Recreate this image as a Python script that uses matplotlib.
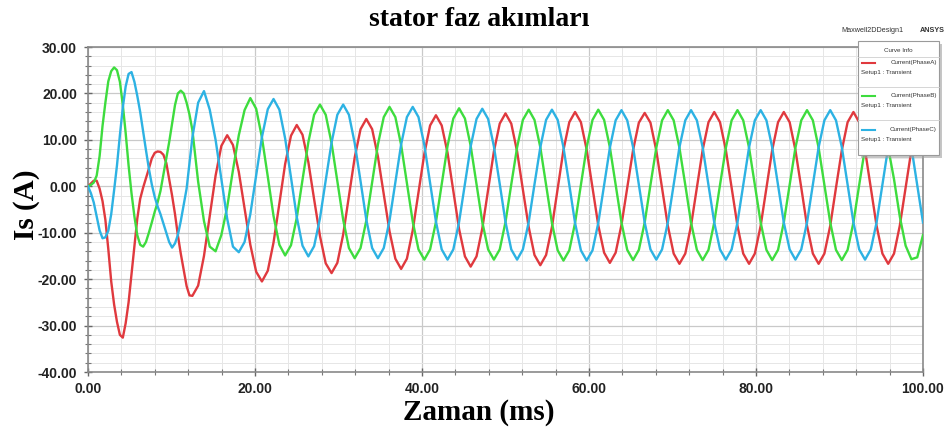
import matplotlib
matplotlib.use("Agg")
import matplotlib.pyplot as plt
from matplotlib.patches import Rectangle
from matplotlib.ticker import MultipleLocator, FormatStrFormatter
from matplotlib.lines import Line2D

# ---------------- data ----------------
TIME_MS = [0.00, 0.35, 0.69, 1.04, 1.39, 1.74, 2.08, 2.43, 2.78, 3.13, 3.47, 3.82, 4.17, 4.51, 4.86, 5.21, 5.56, 5.90,
           6.25, 6.60, 6.94, 7.29, 7.64, 7.99, 8.33, 8.68, 9.03, 9.38, 9.72, 10.07, 10.42, 10.76, 11.11, 11.46, 11.81,
           12.15, 12.50,
           13.19, 13.89, 14.58, 15.28, 15.97, 16.67, 17.36, 18.06, 18.75, 19.44, 20.14, 20.83, 21.53, 22.22, 22.92,
           23.61, 24.31, 25.00,
           25.69, 26.39, 27.08, 27.78, 28.47, 29.17, 29.86, 30.56, 31.25, 31.94, 32.64, 33.33, 34.03, 34.72, 35.42,
           36.11, 36.81, 37.50, 38.19, 38.89, 39.58, 40.28, 40.97, 41.67, 42.36, 43.06, 43.75, 44.44, 45.14, 45.83,
           46.53, 47.22, 47.92, 48.61, 49.31, 50.00,
           50.69, 51.39, 52.08, 52.78, 53.47, 54.17, 54.86, 55.56, 56.25, 56.94, 57.64, 58.33, 59.03, 59.72, 60.42,
           61.11, 61.81, 62.50, 63.19, 63.89, 64.58, 65.28, 65.97, 66.67, 67.36, 68.06, 68.75, 69.44, 70.14, 70.83,
           71.53, 72.22, 72.92, 73.61, 74.31, 75.00,
           75.69, 76.39, 77.08, 77.78, 78.47, 79.17, 79.86, 80.56, 81.25, 81.94, 82.64, 83.33, 84.03, 84.72, 85.42,
           86.11, 86.81, 87.50, 88.19, 88.89, 89.58, 90.28, 90.97, 91.67, 92.36, 93.06, 93.75, 94.44, 95.14, 95.83,
           96.53, 97.22, 97.92, 98.61, 99.31, 100.00]

PHASE_A = [0.0, 0.6, 1.2, 1.2, -0.5, -3.2, -7.2, -13.5, -20.5, -25.5, -29.2, -32.0, -32.6, -29.5, -25.0, -19.0,
           -12.8, -7.0, -2.7, -0.3, 1.7, 3.8, 6.0, 7.2, 7.5, 7.4, 6.8, 5.0, 1.5, -2.0, -6.0, -10.5, -14.5, -18.0,
           -21.5, -23.5, -23.6,
           -21.4, -15.0, -6.4, 2.3, 8.7, 11.0,
           8.9, 3.1, -4.8, -12.6, -18.4, -20.5,
           -18.2, -12.1, -3.7, 4.8, 10.9, 13.2,
           11.1, 5.2, -2.8, -10.7, -16.6, -18.7,
           -16.5, -10.4, -2.1, 6.2, 12.3, 14.5,
           12.3, 6.4, -1.7, -9.7, -15.6, -17.8,
           -15.6, -9.5, -1.3, 7.0, 13.1, 15.3,
           13.1, 7.2, -1.0, -9.2, -15.1, -17.3,
           -15.1, -9.1, -0.8, 7.5, 13.5, 15.7,
           13.5, 7.5, -0.7, -8.8, -14.8, -17.0,
           -14.8, -8.8, -0.5, 7.8, 13.8, 16.0,
           13.8, 7.9, -0.3, -8.4, -14.3, -16.5,
           -14.3, -8.3, -0.3, 7.8, 13.7, 15.8,
           13.7, 7.7, -0.4, -8.5, -14.5, -16.7,
           -14.5, -8.5, -0.3, 7.8, 13.8, 16.0,
           13.8, 7.8, -0.3, -8.5, -14.5, -16.7,
           -14.5, -8.5, -0.3, 7.8, 13.8, 16.0,
           13.8, 7.8, -0.3, -8.5, -14.5, -16.7,
           -14.5, -8.5, -0.3, 7.8, 13.8, 16.0,
           13.8, 7.8, -0.3, -8.5, -14.5, -16.7,
           -14.5, -8.5, -0.3, 7.8, 13.8, 16.0]

PHASE_B = [0.0, 0.3, 0.8, 2.3, 6.5, 13.0, 18.0, 22.6, 24.8, 25.6, 25.0, 22.5, 17.5, 11.5, 4.5, -1.5, -6.5, -10.5,
           -12.6, -13.0, -12.0, -10.0, -7.8, -5.5, -3.5, -1.0, 2.5, 6.0, 9.5, 13.5, 17.5, 20.0, 20.6, 20.0, 18.0,
           15.5, 12.1,
           1.0, -7.5, -13.0, -14.0, -10.5, -4.5,
           3.5, 11.0, 16.4, 19.0, 16.7, 10.5,
           2.1, -6.4, -12.6, -14.9, -12.7, -6.8,
           1.4, 9.5, 15.4, 17.6, 15.4, 9.3,
           1.1, -7.2, -13.3, -15.5, -13.3, -7.4,
           0.8, 9.0, 14.9, 17.1, 14.9, 8.9,
           0.7, -7.6, -13.6, -15.8, -13.6, -7.7,
           0.5, 8.7, 14.6, 16.8, 14.6, 8.7,
           0.5, -7.7, -13.6, -15.8, -13.6, -7.7,
           0.4, 8.4, 14.3, 16.5, 14.3, 8.4,
           0.3, -7.9, -13.8, -16.0, -13.8, -7.9,
           0.3, 8.4, 14.3, 16.5, 14.3, 8.4,
           0.3, -7.8, -13.7, -15.9, -13.7, -7.8,
           0.3, 8.3, 14.2, 16.4, 14.2, 8.3,
           0.3, -7.8, -13.7, -15.9, -13.7, -7.8,
           0.3, 8.3, 14.2, 16.4, 14.2, 8.3,
           0.3, -7.8, -13.7, -15.9, -13.7, -7.8,
           0.3, 8.3, 14.2, 16.4, 14.2, 8.3,
           0.3, -7.8, -13.7, -15.9, -13.7, -7.8,
           0.3, 8.3, 14.2, 16.4, 14.2, 8.3,
           1.5, -6.5, -12.8, -15.7, -15.3, -10.5]

PHASE_C = [0.0, -1.5, -3.5, -6.5, -9.5, -11.2, -11.0, -9.6, -6.0, -0.8, 4.5, 11.0, 17.0, 21.5, 24.2, 24.6, 22.5,
           19.5, 16.0, 11.8, 7.8, 3.8, 0.4, -2.3, -4.3, -6.0, -8.0, -10.0, -12.0, -13.2, -12.3, -10.5, -7.5, -4.0,
           -0.5, 5.0, 10.5,
           18.0, 20.5, 16.5, 10.0, 1.5, -7.0,
           -13.0, -14.2, -12.0, -6.0, 2.3, 10.6,
           16.6, 18.8, 16.5, 10.3, 1.9, -6.6,
           -12.8, -15.1, -12.9, -6.9, 1.3, 9.4,
           15.4, 17.6, 15.4, 9.3, 1.1, -7.2,
           -13.3, -15.5, -13.3, -7.4, 0.8, 9.0,
           14.9, 17.1, 14.9, 8.9, 0.7, -7.6,
           -13.6, -15.8, -13.6, -7.7, 0.5, 8.6,
           14.5, 16.7, 14.5, 8.6, 0.5, -7.7,
           -13.6, -15.8, -13.6, -7.7, 0.4, 8.4,
           14.3, 16.5, 14.3, 8.4, 0.3, -7.9,
           -13.8, -16.0, -13.8, -7.9, 0.2, 8.3,
           14.2, 16.4, 14.2, 8.4, 0.3, -7.8,
           -13.6, -15.8, -13.6, -7.8, 0.3, 8.4,
           14.2, 16.4, 14.2, 8.4, 0.3, -7.8,
           -13.6, -15.8, -13.6, -7.8, 0.3, 8.4,
           14.2, 16.4, 14.2, 8.4, 0.3, -7.8,
           -13.6, -15.8, -13.6, -7.8, 0.3, 8.4,
           14.2, 16.4, 14.2, 8.4, 0.3, -7.8,
           -13.6, -15.8, -13.6, -7.8, 0.3, 8.4,
           14.2, 16.4, 14.2, 8.4, 0.3, -7.8]

SERIES_NAMES = ["Current(PhaseA)", "Current(PhaseB)", "Current(PhaseC)"]
SERIES_SUB = "Setup1 : Transient"
TITLE = "stator faz akımları"
XLABEL = "Zaman (ms)"
YLABEL = "Is (A)"

# ---------------- figure ----------------
W, H = 948, 432
fig = plt.figure(figsize=(W / 100, H / 100), dpi=100)
fig.patch.set_facecolor("white")

L, R, T, B = 88, 923, 47, 372
ax = fig.add_axes([L / W, 1 - B / H, (R - L) / W, (B - T) / H])

colors = ["#E0393E", "#3EDC3E", "#2DB2E3"]
for vals, c in zip([PHASE_A, PHASE_B, PHASE_C], colors):
    ax.plot(TIME_MS, vals, color=c, lw=1.7, solid_joinstyle="round", zorder=3)

ax.set_xlim(0, 100)
ax.set_ylim(-40, 30)
ax.xaxis.set_major_locator(MultipleLocator(20))
ax.xaxis.set_minor_locator(MultipleLocator(4))
ax.yaxis.set_major_locator(MultipleLocator(10))
ax.yaxis.set_minor_locator(MultipleLocator(2))
ax.xaxis.set_major_formatter(FormatStrFormatter("%.2f"))
ax.yaxis.set_major_formatter(FormatStrFormatter("%.2f"))

ax.grid(which="major", color="#c9c9c9", lw=0.9, zorder=0)
ax.grid(which="minor", color="#e6e6e6", lw=0.7, zorder=0)
ax.set_axisbelow(True)

for s in ax.spines.values():
    s.set_color("#8a8a8a")
    s.set_linewidth(1.2)
ax.tick_params(which="major", direction="inout", length=6, width=1.0, color="#666666",
               labelsize=10, labelcolor="#222222", pad=4)
ax.tick_params(which="minor", direction="inout", length=4, width=0.8, color="#777777")
ax.tick_params(axis="y", which="major", pad=5)
for lab in ax.get_xticklabels() + ax.get_yticklabels():
    lab.set_fontweight("bold")
    lab.set_family("Liberation Sans")

serif = "Liberation Serif"
fig.text(479 / W, 1 - 19 / H, TITLE, ha="center", va="center", fontsize=20,
         fontweight="bold", family=serif)
fig.text(479 / W, 1 - 412 / H, XLABEL, ha="center", va="center", fontsize=21,
         fontweight="bold", family=serif)
fig.text(26 / W, 1 - 205 / H, YLABEL, ha="center", va="center", fontsize=21,
         fontweight="bold", family=serif, rotation=90)

# ---------------- ANSYS style curve info box (overlay in pixel coords) ----------------
ov = fig.add_axes([0, 0, 1, 1], zorder=10)
ov.set_xlim(0, W)
ov.set_ylim(H, 0)
ov.axis("off")
ov.patch.set_alpha(0)

bx0, by0, bx1, by1 = 858, 41, 939, 155
ov.add_patch(Rectangle((bx0 + 3, by0 + 3), bx1 - bx0, by1 - by0, facecolor="#a0a0a0",
                       edgecolor="none", alpha=0.6))
ov.add_patch(Rectangle((bx0, by0), bx1 - bx0, by1 - by0, facecolor="white",
                       edgecolor="#9a9a9a", lw=0.8))
ov.text((bx0 + bx1) / 2, 50, "Curve Info", ha="center", va="center", fontsize=4.5,
        color="#333333", family="Liberation Sans")
ov.add_line(Line2D([bx0, bx1], [56.5, 56.5], color="#cfcfcf", lw=0.6))
for i, (name, c) in enumerate(zip(SERIES_NAMES, colors)):
    yl = 62.5 + i * 33.5
    if i > 0:
        ov.add_line(Line2D([bx0, bx1], [yl - 9.5, yl - 9.5], color="#cfcfcf", lw=0.6))
    ov.add_line(Line2D([862, 875], [yl, yl], color=c, lw=1.5))
    ov.text(937, yl, name, ha="right", va="center", fontsize=4.5, color="#333333",
            family="Liberation Sans")
    ov.text(861, yl + 10, SERIES_SUB, ha="left", va="center", fontsize=4.5, color="#333333",
            family="Liberation Sans")

ov.text(872, 31, "Maxwell2DDesign1", ha="center", va="center", fontsize=5.2,
        color="#333333", family="Liberation Sans")
ov.text(932, 30, "ANSYS", ha="center", va="center", fontsize=5.2, fontweight="bold",
        color="#333333", family="Liberation Sans")

fig.savefig("out.png", dpi=100, facecolor="white")
